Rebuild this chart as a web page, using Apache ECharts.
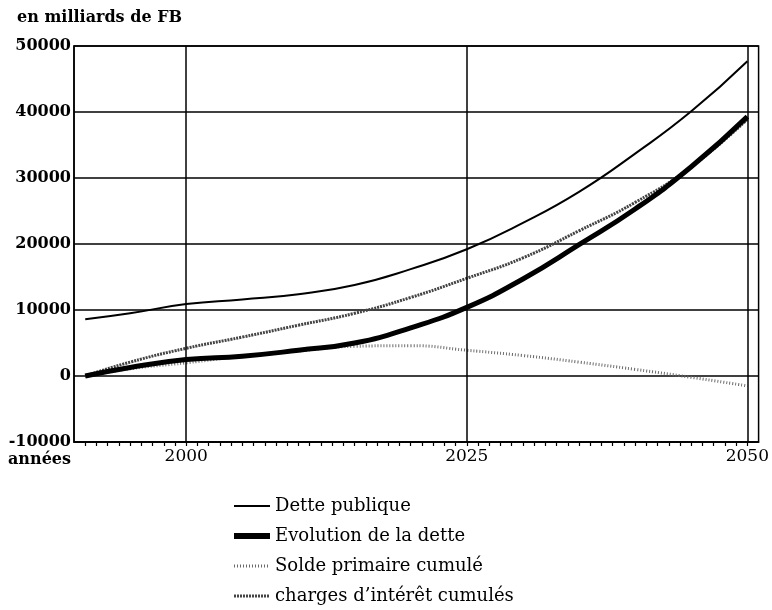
<!DOCTYPE html>
<html>
<head>
<meta charset="utf-8">
<script src="https://cdn.jsdelivr.net/npm/echarts@6/dist/echarts.min.js"></script>
<style>
  html, body { margin: 0; padding: 0; background: #fff; }
  #main { width: 772px; height: 610px; }
</style>
</head>
<body>
<div id="main"></div>
<script>
// valeurs (milliards de FB)
var years = [1991, 1995, 2000, 2005, 2010, 2015, 2020, 2025, 2030, 2035, 2040, 2045, 2050];
var dettePublique = [8600, 9500, 10900, 11600, 12400, 13800, 16200, 19200, 23200, 27900, 33700, 40100, 47700];
var evolutionDette = [0, 1300, 2500, 3000, 3900, 5000, 7300, 10400, 14700, 19900, 25300, 31700, 39300];
var soldePrimaire = [0, 1100, 2000, 3000, 3800, 4500, 4600, 3900, 3100, 2100, 1000, -200, -1500];
var chargesInteret = [0, 2100, 4200, 5900, 7700, 9500, 11900, 14800, 17900, 22000, 26300, 31700, 38900];
var yTicks = [-10000, 0, 10000, 20000, 30000, 40000, 50000];
var xLabels = [2000, 2025, 2050];

var serif = 'DejaVu Serif';

function pairs(vals) {
    return years.map(function (y, i) { return [y, vals[i]]; });
}

var chart = echarts.init(document.getElementById('main'), null, { renderer: 'canvas' });

var option = {
    backgroundColor: '#fff',
    animation: false,
    textStyle: { fontFamily: serif, color: '#000' },
    title: {
        text: 'en milliards de FB',
        left: 12,
        top: 5,
        textStyle: { fontFamily: serif, fontSize: 16, fontWeight: 'bold', color: '#000' }
    },
    graphic: [{
        type: 'text',
        left: 8,
        top: 452,
        style: { text: 'années', font: 'bold 16px "DejaVu Serif"', fill: '#000' }
    }],
    grid: {
        left: 74,
        right: 11,
        top: 46,
        bottom: 168,
        show: true,
        borderColor: '#000',
        borderWidth: 1.5,
        backgroundColor: 'transparent'
    },
    legend: {
        orient: 'vertical',
        left: 226,
        top: 491,
        height: 119,
        itemWidth: 36,
        itemHeight: 14,
        itemGap: 10,
        itemStyle: { opacity: 0 },
        textStyle: { fontFamily: serif, fontSize: 18, lineHeight: 20, color: '#000' },
        data: [
            { name: 'Dette publique', lineStyle: { width: 2 } },
            { name: 'Evolution de la dette', lineStyle: { width: 6 } },
            { name: 'Solde primaire cumulé', lineStyle: { width: 3 } },
            { name: 'charges d\u2019intérêt cumulés', lineStyle: { width: 3 } }
        ]
    },
    xAxis: {
        type: 'value',
        min: 1990,
        max: 2051,
        interval: 1,
        axisLine: { show: true, onZero: false, lineStyle: { color: '#000', width: 1.5 } },
        axisTick: { show: true, length: 4, lineStyle: { color: '#000', width: 1.2 } },
        splitLine: { show: false },
        axisLabel: {
            margin: 6,
            fontFamily: serif,
            fontSize: 17,
            color: '#000',
            showMinLabel: false,
            showMaxLabel: false,
            formatter: function (v) { return xLabels.indexOf(v) >= 0 ? String(v) : ''; }
        }
    },
    yAxis: {
        type: 'value',
        min: yTicks[0],
        max: yTicks[yTicks.length - 1],
        interval: 10000,
        axisLine: { show: true, lineStyle: { color: '#000', width: 1.5 } },
        axisTick: { show: false },
        splitLine: { show: true, lineStyle: { color: '#000', width: 1.5 } },
        axisLabel: {
            margin: 3,
            fontFamily: serif,
            fontSize: 16,
            fontWeight: 'bold',
            color: '#000',
            formatter: function (v) { return String(v); }
        }
    },
    series: [
        {
            name: 'Dette publique',
            type: 'line',
            smooth: true,
            symbol: 'none',
            data: pairs(dettePublique),
            lineStyle: { color: '#000', width: 2 },
            itemStyle: { color: '#000' },
            z: 5,
            markLine: {
                silent: true,
                symbol: 'none',
                label: { show: false },
                lineStyle: { color: '#000', width: 1.5, type: 'solid' },
                data: xLabels.map(function (x) { return { xAxis: x }; })
            }
        },
        {
            name: 'Evolution de la dette',
            type: 'line',
            smooth: true,
            symbol: 'none',
            data: pairs(evolutionDette),
            lineStyle: { color: '#000', width: 5 },
            itemStyle: { color: '#000' },
            z: 4
        },
        {
            name: 'Solde primaire cumulé',
            type: 'line',
            smooth: true,
            symbol: 'none',
            data: pairs(soldePrimaire),
            lineStyle: { color: '#6a6a6a', width: 3, type: [1, 2] },
            itemStyle: { color: '#6a6a6a' },
            z: 3
        },
        {
            name: 'charges d\u2019intérêt cumulés',
            type: 'line',
            smooth: true,
            symbol: 'none',
            data: pairs(chargesInteret),
            lineStyle: { color: '#444', width: 3, type: [2, 1] },
            itemStyle: { color: '#444' },
            z: 3
        }
    ]
};

chart.setOption(option);
</script>
</body>
</html>
